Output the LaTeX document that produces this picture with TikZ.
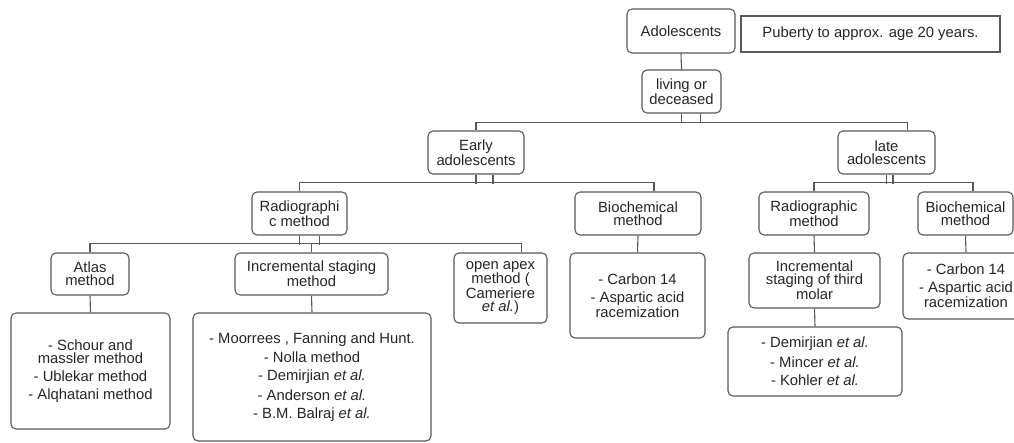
\documentclass[tikz,border=0pt]{standalone}
\usepackage{fontspec}
\setmainfont{Liberation Sans}
\begin{document}
\begin{tikzpicture}[x=1pt, y=-1pt,
  boite/.style={draw=black!65, line width=1.1pt, rounded corners=5pt, align=center,
    inner sep=0pt, text=black!85, font=\fontsize{14.8}{13}\selectfont},
  lien/.style={draw=black!65, line width=1.1pt}]
  \clip (0,0) rectangle (1014,443);
  \fill[white] (0,0) rectangle (1014,443);
  % Haut
  \node[boite, minimum width=108, minimum height=44] (adol) at (681,31) {Adolescents};
  \node[boite, rounded corners=0pt, minimum width=259, minimum height=36] (puberte) at (870.5,34) {Puberty to approx. age 20 years.};
  \node[boite, minimum width=79, minimum height=43] (living) at (681.5,91.5) {living or\\deceased};
  \node[boite, minimum width=96, minimum height=43] (early) at (476,152.5) {Early\\adolescents};
  \node[boite, minimum width=97, minimum height=43] (late) at (886.5,152.5) {late\\adolescents};
  % Methodes
  \node[boite, minimum width=95, minimum height=43] (radL) at (299.5,213.5) {Radiographi\\c method};
  \node[boite, minimum width=126, minimum height=43] (bioL) at (638,213.5) {Biochemical\\method};
  \node[boite, minimum width=110, minimum height=43] (radR) at (814,213.5) {Radiographic\\method};
  \node[boite, minimum width=95, minimum height=43] (bioR) at (965.5,213.5) {Biochemical\\method};
  \node[boite, minimum width=78, minimum height=42] (atlas) at (90,274) {Atlas\\method};
  \node[boite, minimum width=153, minimum height=42] (incr) at (311.5,274) {Incremental staging\\method};
  \node[boite, minimum width=93, minimum height=70] (apex) at (500.5,288) {open apex\\method (\\Cameriere\\\textit{et al.})};
  \node[boite, minimum width=135, minimum height=85] (carbL) at (637.5,295.5) {- Carbon 14\\[5pt]- Aspartic acid\\racemization};
  \node[boite, minimum width=131, minimum height=55] (third) at (814.5,280.5) {Incremental\\staging of third\\molar};
  \node[boite, minimum width=126, minimum height=66] (carbR) at (966,286) {- Carbon 14\\[5pt]- Aspartic acid\\racemization};
  % Listes
  \node[boite, minimum width=159, minimum height=116] (schour) at (90.5,371) {- Schour and\\massler method\\[5pt]- Ublekar method\\[5pt]- Alqhatani method};
  \node[boite, minimum width=238, minimum height=128] (moor) at (312,377) {- Moorrees , Fanning and Hunt.\\[5pt]- Nolla method\\[5pt]- Demirjian \textit{et al.}\\[5pt]- Anderson \textit{et al.}\\[5pt]- B.M. Balraj \textit{et al.}};
  \node[boite, minimum width=174, minimum height=69] (lowR) at (815,361.5) {- Demirjian \textit{et al.}\\[5pt]- Mincer \textit{et al.}\\[5pt]- Kohler \textit{et al.}};
  % Liaisons
  \draw[lien] (adol.south) -- (living.north);
  \foreach \n/\d in {living/19, early/17, radL/20, late/6.5}
    \draw[lien] (\n.south) -- ++(0,9.5) ([xshift=\d pt]\n.south) -- ++(0,9.5);
  \draw[lien] (early.north) -- ++(0,-8) -| ([xshift=21pt]late.north);
  \draw[lien] (radL.north) -- ++(0,-9) -| ([xshift=16pt]bioL.north);
  \draw[lien] (atlas.north) -- ++(0,-9) -| ([xshift=21pt]apex.north);
  \draw[lien] (incr.north) -- ++(0,-9);
  \draw[lien] (radR.north) -- ++(0,-9) -| ([xshift=7.5pt]bioR.north);
  \draw[lien] (atlas.south) -- (schour.north);
  \draw[lien] (incr.south) -- (moor.north);
  \draw[lien] (bioL.south) -- (carbL.north);
  \draw[lien] (radR.south) -- (third.north);
  \draw[lien] (third.south) -- (lowR.north);
  \draw[lien] (bioR.south) -- (carbR.north);
\end{tikzpicture}
\end{document}
